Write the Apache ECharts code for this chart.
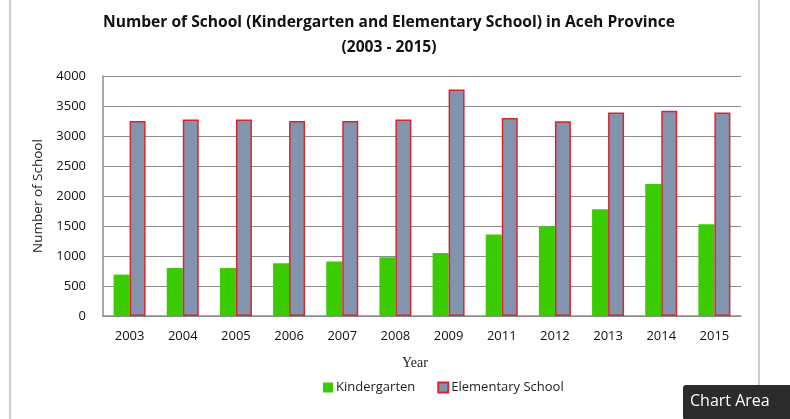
<!DOCTYPE html>
<html>
<head>
<meta charset="utf-8">
<script src="https://cdn.jsdelivr.net/npm/echarts@6/dist/echarts.min.js"></script>
<style>
  html, body { margin: 0; padding: 0; background: #fff; }
  #chart { width: 790px; height: 419px; }
</style>
</head>
<body>
<div id="chart"></div>
<script>
// data
const years = ['2003', '2004', '2005', '2006', '2007', '2008', '2009', '2011', '2012', '2013', '2014', '2015']
const kindergarten = [690, 800, 800, 880, 910, 980, 1050, 1360, 1495, 1780, 2200, 1530]
const elementary = [3250, 3275, 3275, 3250, 3250, 3275, 3775, 3300, 3245, 3390, 3420, 3390]
const yTicks = { min: 0, max: 4000, interval: 500 }

const gridColor = '#8c8c8c'
const font = '"Open Sans", Lato, sans-serif'

const chart = echarts.init(document.getElementById('chart'))
const option = {
  animation: false,
  title: {
    text: 'Number of School (Kindergarten and Elementary School) in Aceh Province\n(2003 - 2015)',
    left: 384,
    top: 5,
    textAlign: 'center',
    textStyle: {
      fontFamily: font,
      fontSize: 15.6,
      fontWeight: 'bold',
      color: '#111',
      lineHeight: 25
    }
  },
  legend: {
    left: 318,
    top: 376,
    icon: 'rect',
    itemWidth: 10,
    itemHeight: 10,
    itemGap: 22,
    textStyle: { fontFamily: font, fontSize: 13, color: '#222', padding: [0, 0, 0, -2] },
    data: ['Kindergarten', 'Elementary School']
  },
  grid: { left: 103, right: 49, top: 76, bottom: 103 },
  xAxis: {
    type: 'category',
    data: years,
    name: 'Year',
    nameLocation: 'middle',
    nameGap: 40,
    nameTextStyle: { fontFamily: '"Liberation Serif", serif', fontSize: 14, color: '#222', padding: [0, 14, 0, 0] },
    axisTick: { show: false },
    axisLine: { lineStyle: { color: gridColor, width: 1.5 } },
    axisLabel: { fontFamily: font, fontSize: 13, color: '#111', margin: 14 }
  },
  yAxis: {
    type: 'value',
    min: yTicks.min,
    max: yTicks.max,
    interval: yTicks.interval,
    name: 'Number of School',
    nameLocation: 'middle',
    nameGap: 58,
    nameTextStyle: { fontFamily: font, fontSize: 13.5, color: '#222' },
    axisLine: { show: true, lineStyle: { color: gridColor, width: 1.5 } },
    axisTick: { show: false },
    axisLabel: { fontFamily: font, fontSize: 13, color: '#111', margin: 17, formatter: v => String(v) },
    splitLine: { lineStyle: { color: gridColor, width: 1.2 } }
  },
  series: [
    {
      name: 'Kindergarten',
      type: 'bar',
      data: kindergarten,
      barWidth: 16,
      barGap: '0%',
      itemStyle: { color: '#3acc00' }
    },
    {
      name: 'Elementary School',
      type: 'bar',
      data: elementary,
      barWidth: 16,
      itemStyle: { color: '#8294ae', borderColor: '#d9262b', borderWidth: 1.5 }
    }
  ],
  graphic: [
    { type: 'line', shape: { x1: 10, y1: 0, x2: 10, y2: 419 }, style: { stroke: '#999', lineWidth: 1 } },
    { type: 'line', shape: { x1: 759, y1: 0, x2: 759, y2: 419 }, style: { stroke: '#999', lineWidth: 1 } },
    {
      type: 'group',
      left: 683,
      top: 385,
      children: [
        { type: 'rect', shape: { x: 0, y: 0, width: 110, height: 35, r: 3 }, style: { fill: '#2b2b2b' } },
        { type: 'text', x: 7, y: 8, style: { text: 'Chart Area', fill: '#fff', font: '16px ' + font } }
      ]
    }
  ]
}
chart.setOption(option)
</script>
</body>
</html>
